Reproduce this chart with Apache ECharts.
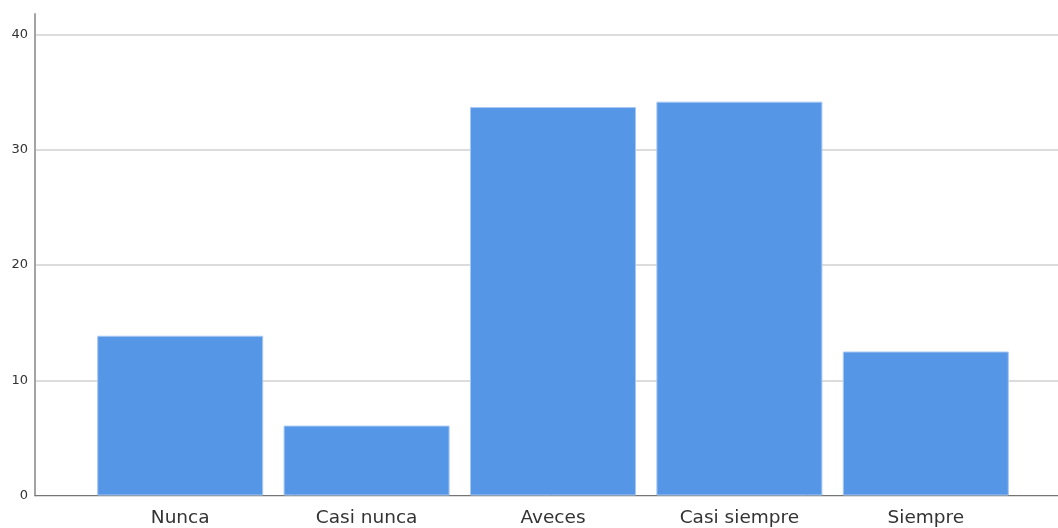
<!DOCTYPE html>
<html>
<head>
<meta charset="utf-8">
<script src="https://cdn.jsdelivr.net/npm/echarts@6/dist/echarts.min.js"></script>
<style>html,body{margin:0;padding:0;background:#fff}#c{width:1058px;height:528px}</style>
</head>
<body>
<div id="c"></div>
<script>
const categories = ["Nunca", "Casi nunca", "Aveces", "Casi siempre", "Siempre"];
const values = [13.87, 6.07, 33.72, 34.19, 12.5];
const yMin = 0, yMax = 41.8, yInterval = 10;

const chart = echarts.init(document.getElementById('c'));
const font = 'DejaVu Sans, Verdana, sans-serif';
chart.setOption({
  animation: false,
  grid: [
    {left: 35, right: 0, top: 14, bottom: 32.5},
    {left: 87, right: 39, top: 14, bottom: 32.5}
  ],
  xAxis: [
    {gridIndex: 0, type: 'value', min: 0, max: 1, show: true,
     axisLine: {show: true, lineStyle: {color: '#757575', width: 1}},
     axisTick: {show: false}, axisLabel: {show: false}, splitLine: {show: false}},
    {gridIndex: 1, type: 'category', data: categories,
     axisLine: {show: false}, axisTick: {show: false},
     axisLabel: {color: '#333', fontSize: 18.5, fontFamily: font, margin: 13, interval: 0}}
  ],
  yAxis: [
    {gridIndex: 0, type: 'value', min: yMin, max: yMax, interval: yInterval,
     axisLine: {show: true, lineStyle: {color: '#a3a3a3', width: 2}},
     axisTick: {show: false},
     axisLabel: {color: '#333', fontSize: 13, fontFamily: font, margin: 7,
       showMaxLabel: false},
     splitLine: {show: true, showMaxLine: false, lineStyle: {color: '#d0d0d0', width: 1.5}}},
    {gridIndex: 1, type: 'value', min: yMin, max: yMax, interval: yInterval, show: false}
  ],
  series: [{
    type: 'bar', xAxisIndex: 1, yAxisIndex: 1, data: values, barWidth: 166,
    itemStyle: {color: '#5596e6', borderColor: '#a8c8f2', borderWidth: 1}
  }]
});
</script>
</body>
</html>
